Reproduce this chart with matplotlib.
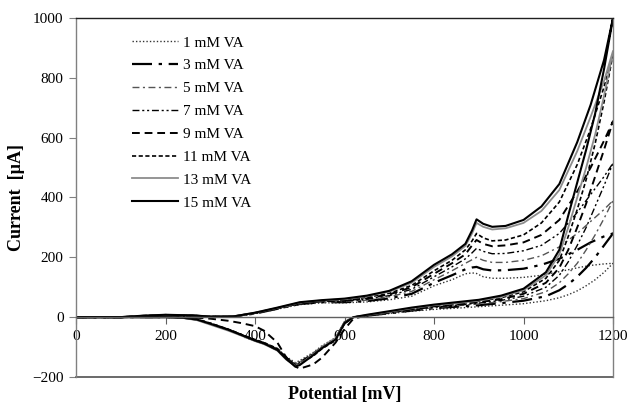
import matplotlib
matplotlib.use("Agg")
import matplotlib.pyplot as plt

# Potential grids (mV) for the forward and reverse sweeps
pot_fwd = [0, 100, 150, 200, 260, 300, 350, 400, 450, 500, 550, 600, 650, 700, 750,
           800, 840, 870, 885, 895, 910, 930, 960, 1000, 1040, 1080, 1120, 1150, 1180, 1200]
pot_rev = [1200, 1180, 1160, 1140, 1120, 1100, 1080, 1050, 1000, 950, 900, 850, 800, 750,
           700, 650, 620, 600, 580, 550, 530, 500, 490, 470, 450, 420, 400, 370, 340, 300,
           270, 240, 200, 100, 0]

# Current (uA), forward sweep
f1 = [0, 0, 3, 6, 4, 1, 2, 12, 27, 42, 48, 48, 51, 58, 70, 105, 125, 145, 148, 146, 135, 130, 130, 133, 140, 152, 165, 173, 178, 180]
f3 = [0, 0, 4, 6, 5, 2, 2, 12, 28, 44, 50, 50, 54, 63, 78, 115, 140, 160, 166, 168, 160, 156, 157, 162, 175, 195, 225, 250, 270, 280]
f5 = [0, 0, 4, 7, 5, 2, 2, 13, 28, 45, 51, 52, 57, 68, 86, 125, 155, 180, 192, 200, 190, 183, 183, 190, 205, 235, 280, 320, 360, 390]
f7 = [0, 0, 4, 7, 5, 2, 2, 13, 29, 46, 53, 54, 60, 72, 93, 135, 168, 195, 215, 230, 220, 212, 213, 222, 240, 280, 350, 410, 470, 515]
f9 = [0, 0, 4, 7, 5, 2, 2, 14, 30, 47, 54, 56, 63, 76, 100, 145, 180, 210, 240, 258, 245, 237, 240, 250, 275, 325, 420, 500, 590, 655]
f11 = [0, 0, 5, 8, 6, 2, 2, 14, 30, 48, 55, 58, 66, 80, 106, 155, 190, 225, 255, 280, 265, 255, 258, 275, 315, 385, 510, 630, 770, 880]
f13 = [0, 0, 5, 8, 6, 2, 2, 15, 31, 49, 56, 60, 70, 85, 115, 168, 203, 238, 280, 315, 302, 293, 297, 315, 355, 425, 555, 670, 790, 890]
f15 = [0, 0, 5, 8, 6, 2, 2, 15, 32, 50, 57, 62, 72, 88, 120, 175, 210, 245, 290, 327, 312, 302, 305, 325, 370, 445, 585, 710, 860, 1000]

# Current (uA), reverse sweep
r1 = [180, 150, 125, 105, 88, 75, 65, 55, 45, 40, 35, 30, 26, 20, 12, 4, 0, -15, -68, -95, -118, -145, -152, -132, -105, -85, -75, -58, -40, -20, -7, -2, 0, 0, 0]
r3 = [280, 240, 200, 165, 135, 110, 90, 70, 55, 47, 40, 35, 30, 22, 13, 5, 0, -18, -72, -102, -125, -155, -160, -140, -110, -88, -78, -60, -42, -22, -8, -2, 0, 0, 0]
r5 = [390, 330, 275, 225, 180, 145, 115, 85, 62, 52, 44, 38, 32, 24, 14, 5, 0, -15, -70, -98, -120, -150, -155, -135, -105, -85, -75, -58, -40, -20, -7, -2, 0, 0, 0]
r7 = [515, 440, 370, 300, 240, 185, 140, 100, 70, 56, 47, 40, 34, 25, 15, 5, 0, -20, -72, -100, -122, -150, -158, -138, -108, -86, -76, -58, -42, -22, -8, -2, 0, 0, 0]
r9 = [655, 560, 470, 380, 300, 225, 165, 115, 78, 60, 50, 43, 36, 27, 16, 6, -5, -40, -85, -135, -158, -172, -165, -135, -85, -45, -30, -20, -12, -5, -2, 0, 0, 0, 0]
r11 = [880, 720, 580, 460, 360, 270, 190, 130, 85, 65, 53, 45, 38, 28, 17, 6, 0, -22, -78, -105, -130, -155, -160, -135, -105, -85, -75, -58, -40, -20, -7, -2, 0, 0, 0]
r13 = [890, 740, 610, 500, 400, 300, 210, 140, 90, 68, 55, 47, 40, 30, 18, 7, 0, -18, -70, -100, -125, -158, -163, -142, -112, -90, -80, -62, -45, -25, -10, -3, 0, 0, 0]
r15 = [1000, 830, 680, 560, 450, 340, 225, 150, 95, 72, 58, 50, 42, 32, 20, 8, 0, -20, -75, -103, -127, -160, -165, -140, -110, -88, -78, -60, -42, -22, -8, -2, 0, 0, 0]

labels = ["1 mM VA", "3 mM VA", "5 mM VA", "7 mM VA", "9 mM VA", "11 mM VA", "13 mM VA", "15 mM VA"]
forward = [f1, f3, f5, f7, f9, f11, f13, f15]
reverse = [r1, r3, r5, r7, r9, r11, r13, r15]

styles = [
    dict(color="#333333", lw=1.0, ls=(0, (1, 1.5))),
    dict(color="black", lw=1.6, ls=(0, (9, 3, 1.5, 3))),
    dict(color="#555555", lw=1.0, ls=(0, (5, 2.5, 1.5, 2.5))),
    dict(color="black", lw=1.0, ls=(0, (5, 2, 1.5, 2, 1.5, 2))),
    dict(color="black", lw=1.4, ls=(0, (4, 2.5))),
    dict(color="black", lw=1.2, ls=(0, (2.5, 1.5))),
    dict(color="#8c8c8c", lw=1.3, ls="-"),
    dict(color="black", lw=1.5, ls="-"),
]

plt.rcParams["font.family"] = ["Liberation Serif", "DejaVu Serif"]

fig = plt.figure(figsize=(6.35, 4.07), dpi=100)
ax = fig.add_axes([0.1197, 0.0737, 0.8457, 0.8821])

for lab, fw, rv, st in zip(labels, forward, reverse, styles):
    ax.plot(pot_fwd + pot_rev, fw + rv, label=lab, **st)

ax.set_xlim(0, 1200)
ax.set_ylim(-200, 1000)
ax.set_xticks(range(0, 1201, 200))
ax.set_yticks(range(-200, 1001, 200))

# x axis crosses at zero, box drawn round the plot area
ax.spines["bottom"].set_position(("data", 0))
ax.spines["bottom"].set_color("#606060")
ax.spines["left"].set_color("#808080")
ax.spines["right"].set_color("#808080")
ax.spines["top"].set_color("#202020")
for s in ax.spines.values():
    s.set_linewidth(1.0)
ax.axhline(-200, color="#505050", lw=1.2, clip_on=False)

ax.tick_params(axis="x", direction="out", length=5, color="#606060", labelsize=11, pad=4)
ax.tick_params(axis="y", direction="out", length=5, color="#808080", labelsize=11, pad=4)

ax.set_xlabel("Potential [mV]", fontsize=13, fontweight="bold")
ax.xaxis.set_label_coords(0.5, -0.025)
ax.set_ylabel("Current  [\u00b5A]", fontsize=13, fontweight="bold", labelpad=5)

ax.legend(loc="upper left", bbox_to_anchor=(0.105, 0.95), frameon=False, fontsize=11,
          handlelength=3.0, handletextpad=0.3, labelspacing=0.6, borderpad=0, borderaxespad=0)

fig.savefig("out.png", dpi=100)
